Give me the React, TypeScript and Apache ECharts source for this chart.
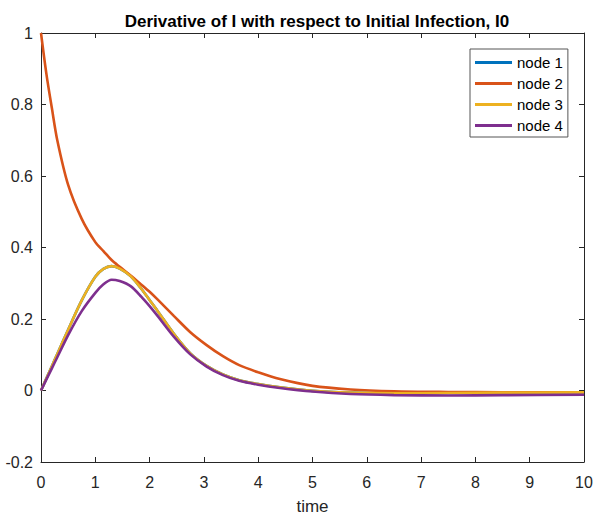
import React, { useEffect, useRef } from "react";
import * as echarts from "echarts";

const titleText = "Derivative of I with respect to Initial Infection, I0";
const xLabel = "time";
const seriesNames = ["node 1", "node 2", "node 3", "node 4"];
const seriesColors = ["#0072BD", "#D95319", "#EDB120", "#7E2F8E"];

const tValues = [0, 0.1, 0.2, 0.3, 0.5, 0.75, 1.0, 1.15, 1.3, 1.45, 1.65, 1.85, 2.0, 2.15, 2.45, 2.75, 3.05, 3.35, 3.65, 4.0, 4.4, 5.0, 5.7, 6.5, 7.5, 8.5, 10];

const node1 = [0, 0.034, 0.068, 0.102, 0.17, 0.252, 0.318, 0.34, 0.348, 0.341, 0.32, 0.284, 0.253, 0.222, 0.158, 0.104, 0.069, 0.045, 0.029, 0.018, 0.009, -0.001, -0.006, -0.008, -0.007, -0.006, -0.005];
const node2 = [1, 0.885, 0.79, 0.7, 0.575, 0.48, 0.415, 0.39, 0.365, 0.346, 0.322, 0.296, 0.276, 0.254, 0.208, 0.163, 0.127, 0.096, 0.071, 0.051, 0.032, 0.013, 0.003, -0.002, -0.004, -0.005, -0.005];
const node3 = [0, 0.034, 0.068, 0.102, 0.17, 0.252, 0.318, 0.34, 0.348, 0.341, 0.32, 0.284, 0.253, 0.222, 0.158, 0.104, 0.069, 0.045, 0.029, 0.018, 0.009, -0.001, -0.006, -0.008, -0.007, -0.006, -0.005];
const node4 = [0, 0.031, 0.062, 0.093, 0.155, 0.222, 0.273, 0.297, 0.31, 0.306, 0.292, 0.262, 0.236, 0.208, 0.15, 0.101, 0.067, 0.043, 0.027, 0.016, 0.007, -0.003, -0.01, -0.013, -0.014, -0.013, -0.012];

const allNodes = [node1, node2, node3, node4];

const xMin = 0, xMax = 10, xStep = 1;
const yMin = -0.2, yMax = 1, yStep = 0.2;

const FONT = "Arial, 'Liberation Sans', Helvetica, sans-serif";
const AX = "#262626";

export default function App() {
  const ref = useRef<HTMLDivElement>(null);
  useEffect(() => {
    if (!ref.current) return;
    const chart = echarts.init(ref.current, undefined, { renderer: "svg" });
    const fmt = (v: number) => String(Math.round(v * 10) / 10);
    const tickCommon = { inside: true, length: 5, lineStyle: { color: AX, width: 1 } };
    const lineCommon = { show: true, onZero: false, lineStyle: { color: AX, width: 1 } };
    chart.setOption({
      animation: false,
      backgroundColor: "#ffffff",
      textStyle: { fontFamily: FONT },
      title: {
        text: titleText,
        left: 312,
        textAlign: "center",
        top: 8,
        textStyle: { fontSize: 17, fontWeight: "bold", color: "#000", fontFamily: FONT },
      },
      legend: {
        orient: "vertical",
        left: 470,
        top: 49,
        padding: [6, 5, 4, 5],
        itemGap: 6,
        itemWidth: 37,
        itemHeight: 3,
        itemStyle: { borderWidth: 0 },
        icon: "rect",
        backgroundColor: "#fff",
        borderColor: "#555",
        borderWidth: 1,
        borderRadius: 0,
        textStyle: { fontSize: 15, color: "#000", lineHeight: 15, padding: [0, 0, 0, 0], fontFamily: FONT },
        data: seriesNames,
      },
      grid: { left: 41, right: 11, top: 33, bottom: 56, containLabel: false, outerBoundsMode: "none" },
      xAxis: [
        {
          type: "value",
          min: xMin,
          max: xMax,
          interval: xStep,
          position: "bottom",
          axisLine: lineCommon,
          axisTick: tickCommon,
          splitLine: { show: false },
          axisLabel: { fontSize: 16, color: AX, margin: 12, formatter: fmt, fontFamily: FONT },
          name: xLabel,
          nameLocation: "middle",
          nameGap: 36,
          nameTextStyle: { fontSize: 17, color: AX, fontFamily: FONT },
        },
        {
          type: "value",
          min: xMin,
          max: xMax,
          interval: xStep,
          position: "top",
          axisLine: lineCommon,
          axisTick: tickCommon,
          splitLine: { show: false },
          axisLabel: { show: false },
        },
      ],
      yAxis: [
        {
          type: "value",
          min: yMin,
          max: yMax,
          interval: yStep,
          position: "left",
          axisLine: lineCommon,
          axisTick: tickCommon,
          splitLine: { show: false },
          axisLabel: { fontSize: 16, color: AX, margin: 8, formatter: fmt, fontFamily: FONT },
        },
        {
          type: "value",
          min: yMin,
          max: yMax,
          interval: yStep,
          position: "right",
          axisLine: lineCommon,
          axisTick: tickCommon,
          splitLine: { show: false },
          axisLabel: { show: false },
        },
      ],
      series: allNodes.map((vals, i) => ({
        name: seriesNames[i],
        type: "line",
        xAxisIndex: 0,
        yAxisIndex: 0,
        data: tValues.map((t, j) => [t, vals[j]]),
        showSymbol: false,
        symbol: "none",
        smooth: 0.3,
        color: seriesColors[i],
        lineStyle: { width: 2.6, color: seriesColors[i] },
      })),
    });
    return () => chart.dispose();
  }, []);
  return <div ref={ref} style={{ position: "absolute", left: 0, top: 0, width: 595, height: 518 }} />;
}
